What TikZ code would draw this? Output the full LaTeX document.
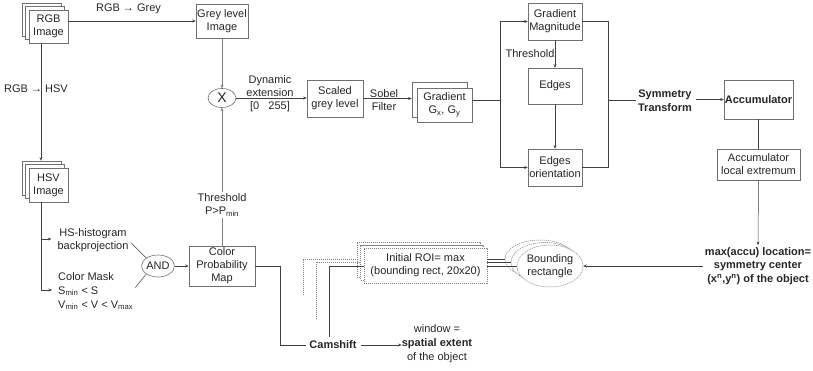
\documentclass[tikz,border=0pt]{standalone}
\usepackage{fontspec}
\setmainfont{Liberation Sans}
\usetikzlibrary{arrows.meta,shapes.geometric,calc}
\definecolor{linec}{HTML}{404040}
\definecolor{boxc}{HTML}{707070}
\definecolor{dashc}{HTML}{808080}
\begin{document}
\begin{tikzpicture}[x=1pt,y=-1pt,
  every node/.style={font=\fontsize{11}{13}\selectfont, align=center, inner sep=0pt, text=black!85},
  box/.style={draw=boxc, fill=white, line width=0.6pt},
  conn/.style={draw=linec, line width=0.5pt},
  arr/.style={conn, -{Stealth[length=3.5pt,width=3pt]}},
  dbox/.style={draw=dashc, fill=white, line width=0.5pt, dash pattern=on 1.2pt off 0.8pt},
  dline/.style={draw=dashc, line width=0.5pt, dash pattern=on 1.2pt off 0.8pt},
  bold/.style={font=\fontsize{11}{13.5}\selectfont\bfseries}]
\useasboundingbox (0,0) rectangle (813,371);

% RGB stack
\node[box, minimum width=39pt, minimum height=33pt] (rgbA) at (41.5,19.5) {};
\node[box, minimum width=39pt, minimum height=33pt] (rgbB) at (45,23) {};
\node[box, minimum width=39pt, minimum height=33pt] (rgb) at (48.5,26.5) {RGB\\Image};

% Grey level image
\node[box, minimum width=52pt, minimum height=34pt] (grey) at (222,21) {Grey level\\Image};
\node (l1) at (128.5,8.5) {RGB → Grey};
\draw[arr] (rgb.east |- grey.west) -- (grey.west);

% HSV stack
\node[box, minimum width=39pt, minimum height=34pt] (hsvA) at (41.5,178) {};
\node[box, minimum width=39pt, minimum height=34pt] (hsvB) at (45,181.5) {};
\node[box, minimum width=39pt, minimum height=34pt] (hsv) at (48.5,185) {HSV\\Image};
\coordinate (vx) at (41,0);
\draw[arr] (rgb.south -| vx) -- (hsvA.north -| vx);
\node (l2) at (36,89) {RGB → HSV};

% HS branch
\node (hs) at (93,240.5) {HS-histogram\\backprojection};
\node[anchor=west, align=left, font=\fontsize{11}{14}\selectfont] (mask) at (58,291) {Color Mask\\S\textsubscript{min} < S\\V\textsubscript{min} < V < V\textsubscript{max}};
\coordinate (b1) at (41,239);
\coordinate (b2) at (41,290);
\draw[conn] (hsv.south -| vx) -- (b2);
\draw[arr, shorten >=6pt] (b1) -- (b1 -| hs.west);
\draw[arr, shorten >=6pt] (b2) -- (b2 -| mask.west);

\node[ellipse, draw=boxc, fill=white, line width=0.6pt, minimum width=28pt, minimum height=22pt] (and) at (158,266) {AND};
\draw[conn, shorten <=4pt] (hs.east) -- (and.north west);
\draw[conn, shorten <=3pt] (mask.east |- b2) -- (and.south west);

\node[box, minimum width=66pt, minimum height=40pt] (cpm) at (222,266) {Color\\Probability\\Map};
\draw[arr] (and.east) -- (cpm.west);

% multiplication
\node[ellipse, draw=boxc, fill=white, line width=0.6pt, minimum width=28pt, minimum height=19pt, font=\fontsize{14}{14}\selectfont] (mult) at (222,98) {X};
\draw[arr, draw=black!50] (grey.south) -- (mult.north);
\draw[arr, draw=black!50] (cpm.north) -- (mult.south);
\node[fill=white, inner sep=1.5pt] (thr) at (222,205) {Threshold\\P>P\textsubscript{min}};

% scaled grey level
\node[box, minimum width=56pt, minimum height=37pt] (scaled) at (335,98.5) {Scaled\\grey level};
\draw[arr] (mult.east) -- (mult.east -| scaled.west);
\node (dyn) at (270,94) {Dynamic\\extension\\{[}0\ \ \ 255{]}};

% gradient
\node[box, minimum width=55pt, minimum height=35pt] (gradA) at (439.5,99.5) {};
\node[box, minimum width=55pt, minimum height=34pt] (grad) at (444.5,105) {Gradient\\G\textsubscript{x}, G\textsubscript{y}};
\draw[arr] (scaled.east) -- (scaled.east -| gradA.west);
\node (sobel) at (384,100) {Sobel\\Filter};

% gradient magnitude / edges
\node[box, minimum width=54pt, minimum height=37pt] (gm) at (555,21.5) {Gradient\\Magnitude};
\node[box, minimum width=54pt, minimum height=36pt] (edges) at (555,86) {Edges};
\node[box, minimum width=54pt, minimum height=37pt] (eo) at (555,167.5) {Edges\\orientation};
\coordinate (L) at (500,100);
\draw[conn] (grad.east |- L) -- (L);
\draw[arr] (L) |- (gm.west);
\draw[arr] (L) |- (eo.west);
\draw[arr] (gm.south) -- (edges.north);
\node (th2) at (530,54) {Threshold};
\draw[arr] (edges.south) -- (eo.north);
\coordinate (R) at (608,100);
\draw[conn] (gm.east) -| (R);
\draw[conn] (eo.east) -| (R);

% symmetry transform / accumulator
\node[bold] (sym) at (665,100.5) {Symmetry\\Transform};
\draw[conn, shorten >=2pt] (R) -- (R -| sym.west);
\node[box, minimum width=69pt, minimum height=39pt, font=\fontsize{11}{13}\selectfont\bfseries] (acc) at (758.5,99.5) {Accumulator};
\draw[arr, shorten <=4pt] (sym.east |- acc.west) -- (acc.west);
\node[box, minimum width=83pt, minimum height=31pt] (ale) at (758.5,164.5) {Accumulator\\local extremum};
\draw[conn] (acc.south) -- (ale.north);
\node[bold, inner sep=2pt] (maxt) at (758,266) {max(accu) location=\\symmetry center\\(x\textsuperscript{n},y\textsuperscript{n}) of the object};
\draw[arr] (ale.south) -- (maxt.north);

% bounding rectangle ellipses
\node[ellipse, dbox, minimum width=70pt, minimum height=38pt] (e1) at (540,259) {};
\node[ellipse, dbox, minimum width=68pt, minimum height=40pt] (e2) at (545,262.5) {};
\node[ellipse, dbox, minimum width=66pt, minimum height=42pt] (e3) at (550,266) {Bounding\\rectangle};
\draw[arr] (maxt.west) -- (e3.east);

% initial ROI
\node[dbox, minimum width=123pt, minimum height=35pt] (roiA) at (418.5,259.5) {};
\node[dbox, minimum width=123pt, minimum height=35pt] (roiB) at (422,262.5) {};
\node[dbox, minimum width=123pt, minimum height=35pt] (roi) at (425.5,265.5) {Initial ROI= max\\(bounding rect, 20x20)};
\draw[conn] (e1.west -| roi.east) -- (e1.west);
\draw[conn] (e2.west -| roi.east) -- (e2.west);
\draw[conn] (e3.west -| roi.east) -- (e3.west);

% camshift
\node[bold] (cam) at (333,345) {Camshift};
\node[font=\fontsize{11}{14}\selectfont] (win) at (437,344) {window =\\\textbf{spatial extent}\\of the object};
\draw[conn, shorten >=3pt] (cpm.east) -- ++(25,0) |- (cam.west);
\draw[arr, shorten <=4pt] (cam.east) -- (cam.east -| win.west);
\coordinate (s1) at (329,266);
\coordinate (s2) at (316,262);
\coordinate (s3) at (303,259);
\draw[conn] ($(s1 |- cam.north)+(0,-4)$) -- (s1) -- (s1 -| roi.west);
\draw[dline] (316,319) -- (s2) -- (s2 -| roiB.west);
\draw[dline] (303,295) -- (s3) -- (s3 -| roiA.west);
\end{tikzpicture}
\end{document}
